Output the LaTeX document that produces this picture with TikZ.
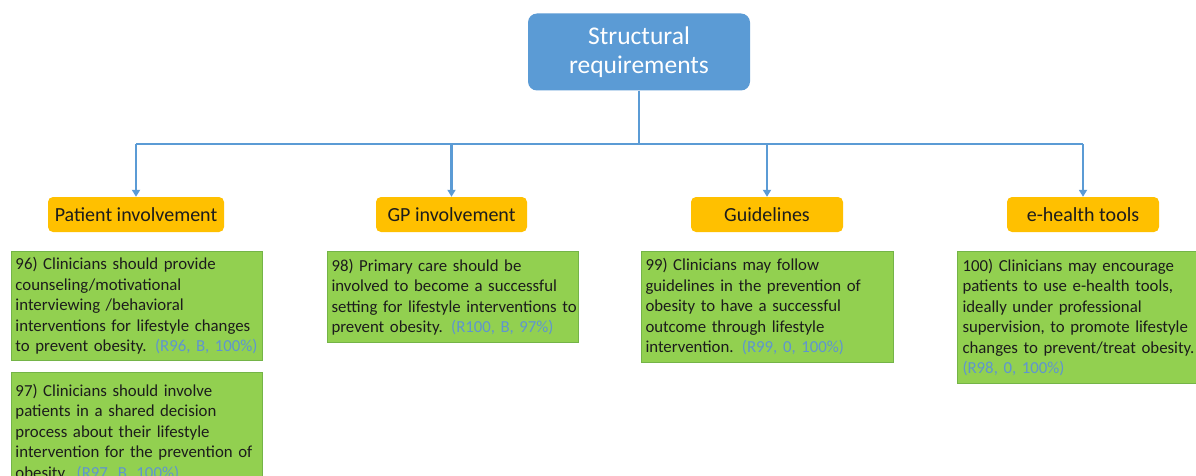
\documentclass[tikz,border=0pt]{standalone}
\usepackage{fontspec}
\setmainfont{Carlito}
\usetikzlibrary{arrows.meta}
\definecolor{sblue}{HTML}{5B9BD5}
\definecolor{refblue}{HTML}{5F95D0}
\definecolor{sorange}{HTML}{FFC000}
\definecolor{sgreen}{HTML}{92D050}
\definecolor{gborder}{HTML}{74B447}
\definecolor{dtext}{HTML}{1C1C1C}
\tikzset{
  topbox/.style={fill=sblue, rounded corners=9pt, minimum width=222pt, minimum height=77pt,
    align=center, text=white, font=\fontsize{25.5}{29}\selectfont, inner sep=0pt},
  catbox/.style={fill=sorange, rounded corners=5pt, minimum height=35pt, inner sep=0pt,
    text=dtext, font=\fontsize{20}{22}\selectfont},
  recbox/.style={draw=gborder, line width=1pt, fill=sgreen, anchor=north west, align=left,
    inner xsep=4pt, inner ysep=0pt, text=dtext, font=\fontsize{16.8}{20.5}\selectfont},
  conn/.style={draw=sblue, line width=2.8pt},
  arr/.style={conn, -{Triangle[width=8pt,length=7pt]}},
}
\newcommand{\rref}[1]{\textcolor{refblue}{#1}}
\begin{document}
\begin{tikzpicture}[x=1pt,y=-1pt]
\clip (0,0) rectangle (1196,476);
\fill[white] (0,0) rectangle (1196,476);

\node[topbox] (root) at (639,52) {Structural\\requirements};

\node[catbox, minimum width=176pt] (c1) at (136,214.5) {Patient involvement};
\node[catbox, minimum width=151pt] (c2) at (451.5,214.5) {GP involvement};
\node[catbox, minimum width=152pt] (c3) at (767,214.5) {Guidelines};
\node[catbox, minimum width=152pt] (c4) at (1083,214.5) {e-health tools};

\coordinate (bar) at (639,144);
\draw[conn] (root.south) -- (bar);
\draw[conn] (c1.north |- bar) -- (c4.north |- bar);
\draw[arr] (c1.north |- bar) -- (c1.north);
\draw[arr] (c2.north |- bar) -- (c2.north);
\draw[arr] (c3.north |- bar) -- (c3.north);
\draw[arr] (c4.north |- bar) -- (c4.north);

\node[recbox, minimum width=251pt, minimum height=109pt, text width=243pt] (r96) at (11,251)
  {96) Clinicians should provide\\counseling/motivational\\interviewing /behavioral\\interventions for lifestyle changes\\to prevent obesity. \rref{(R96, B, 100\%)}};
\node[recbox, minimum width=251pt, minimum height=120pt, text width=243pt] (r97) at (11,372)
  {97) Clinicians should involve\\patients in a shared decision\\process about their lifestyle\\intervention for the prevention of\\obesity. \rref{(R97, B, 100\%)}};
\node[recbox, minimum width=251pt, minimum height=91pt, text width=243pt] (r98) at (327,251)
  {98) Primary care should be\\involved to become a successful\\\mbox{setting for lifestyle interventions to}\\prevent obesity. \rref{(R100, B, 97\%)}};
\node[recbox, minimum width=252pt, minimum height=111pt, text width=244pt] (r99) at (641,251)
  {99) Clinicians may follow\\guidelines in the prevention of\\obesity to have a successful\\outcome through lifestyle\\intervention. \rref{(R99, 0, 100\%)}};
\node[recbox, minimum width=260pt, minimum height=132pt, text width=250pt, inner xsep=5pt] (r100) at (957,251)
  {100) Clinicians may encourage\\patients to use e-health tools,\\ideally under professional\\supervision, to promote lifestyle\\changes to prevent/treat obesity.\\\rref{(R98, 0, 100\%)}};
\end{tikzpicture}
\end{document}
